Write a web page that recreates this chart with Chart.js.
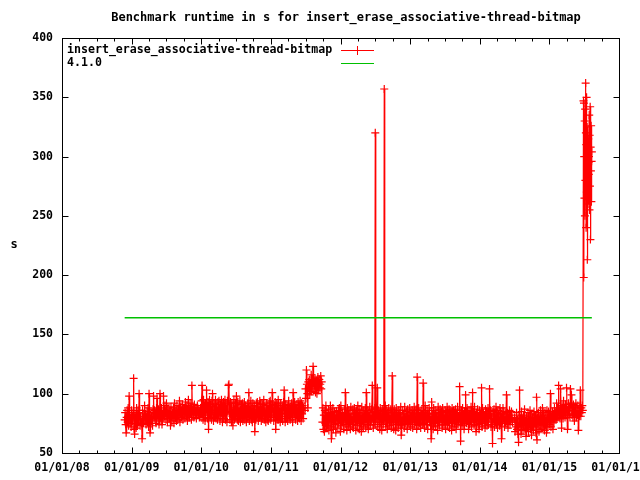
<!DOCTYPE html>
<html>
<head>
<meta charset="utf-8">
<script src="https://cdn.jsdelivr.net/npm/chart.js@4.4.1/dist/chart.umd.min.js"></script>
<style>
  html, body { margin: 0; padding: 0; background: #fff; }
  #chart { display: block; }
</style>
</head>
<body>
<canvas id="chart" width="640" height="480"></canvas>
<script>
const TITLE = "Benchmark runtime in s for insert_erase_associative-thread-bitmap";
const Y_TITLE = "s";
const SERIES_NAME = "insert_erase_associative-thread-bitmap";
const REF_NAME = "4.1.0";
const REF_VALUE = 164;

// runs are about daily, each block is spread evenly between its first and last date (decimal years)
const blockStart = [2008.90, 2009.99, 2011.49, 2011.74, 2014.50, 2015.09, 2015.49];
const blockEnd   = [2009.98, 2011.47, 2011.73, 2014.47, 2015.08, 2015.48, 2015.61];

const runsLate2008 = [
  78, 84, 74, 67, 80, 86, 76, 88, 73, 98, 82, 75,
  80, 72, 86, 79, 77, 84, 113, 70, 66, 83, 78, 71,
  88, 80, 74, 86, 76, 100, 84, 73, 81, 78, 75, 62,
  86, 79, 75, 83, 90, 77, 82, 74, 80, 85, 76, 88,
  72, 100, 81, 67, 79, 84, 77, 81, 73, 87, 98, 80,
  86, 78, 83, 75, 88, 96, 82, 79, 87, 74, 84, 100,
  80, 77, 88, 74, 83, 79, 98, 85, 81, 90, 84, 78,
  92, 86, 76, 84, 82, 88, 79, 85, 73, 89, 81, 77,
  84, 80, 88, 75, 92, 82, 79, 86, 77, 90, 83, 78,
  87, 81, 94, 76, 85, 89, 80, 84, 91, 78, 86, 82,
  88, 79, 93, 84, 81, 90, 77, 86, 95, 83, 80, 89,
  84, 92, 78, 107, 86, 82, 88, 80, 91, 85, 83, 88,
  79, 86, 90, 84, 82, 87, 80, 85
];
const runs2010 = [
  88, 80, 94, 107, 84, 78, 95, 82, 90, 77, 92, 85,
  103, 86, 79, 93, 70, 84, 95, 80, 91, 86, 78, 94,
  100, 83, 77, 92, 86, 80, 95, 79, 89, 84, 78, 93,
  82, 94, 86, 77, 91, 81, 95, 84, 76, 90, 93, 79,
  86, 95, 78, 92, 83, 76, 94, 85, 107, 108, 84, 78,
  93, 85, 76, 92, 81, 73, 88, 95, 78, 84, 92, 79,
  98, 84, 78, 93, 77, 88, 81, 94, 76, 85, 91, 79,
  92, 77, 86, 80, 93, 78, 90, 83, 76, 89, 80, 92,
  81, 101, 77, 89, 83, 94, 78, 88, 76, 92, 82, 79,
  90, 68, 84, 78, 92, 80, 93, 83, 77, 89, 80, 94,
  81, 92, 77, 86, 91, 79, 85, 95, 78, 88, 82, 76,
  92, 83, 78, 90, 77, 86, 93, 80, 94, 78, 88, 80,
  101, 91, 82, 77, 90, 80, 93, 70, 84, 92, 78, 86,
  95, 78, 88, 81, 76, 92, 83, 79, 90, 77, 86, 93,
  103, 81, 76, 91, 83, 79, 90, 77, 86, 94, 80, 88,
  78, 89, 80, 92, 83, 76, 101, 90, 81, 93, 84, 78,
  91, 82, 88, 77, 93, 80, 90, 79, 94, 84, 77, 92,
  83, 90, 79, 88
];
const runsMid2011 = [
  86, 104, 96, 120, 108, 100, 88, 110, 105, 112, 99, 103,
  109, 116, 102, 106, 112, 123, 110, 104, 107, 113, 101, 108,
  111, 100, 106, 114, 103, 109, 112, 105, 108, 115, 104, 110
];
const runs2012 = [
  76, 88, 70, 82, 68, 86, 75, 90, 71, 84, 73, 80,
  87, 69, 81, 76, 90, 72, 62, 84, 78, 88, 70, 80,
  85, 74, 79, 67, 85, 77, 82, 71, 86, 75, 88, 80,
  68, 90, 78, 73, 84, 76, 81, 70, 87, 77, 101, 74,
  82, 69, 88, 79, 72, 86, 76, 83, 70, 89, 77, 81,
  74, 87, 71, 80, 88, 76, 83, 69, 86, 78, 73, 90,
  79, 84, 70, 87, 75, 82, 68, 89, 77, 83, 72, 86,
  76, 81, 88, 71, 101, 79, 74, 86, 70, 84, 78, 89,
  73, 82, 77, 87, 107, 80, 71, 85, 76, 88, 320, 74,
  84, 79, 105, 72, 86, 78, 83, 70, 88, 76, 82, 69,
  87, 80, 74, 85, 357, 77, 90, 72, 81, 86, 70, 84,
  78, 88, 73, 82, 76, 87, 71, 84, 115, 76, 84, 70,
  87, 78, 82, 69, 88, 74, 83, 80, 71, 86, 77, 84,
  73, 89, 65, 80, 74, 86, 77, 83, 71, 89, 75, 81,
  78, 85, 70, 87, 76, 82, 74, 88, 79, 72, 84, 77,
  86, 71, 83, 78, 89, 74, 81, 76, 87, 70, 114, 79,
  73, 88, 80, 75, 84, 71, 86, 78, 82, 74, 109, 75,
  84, 71, 90, 78, 82, 74, 86, 70, 83, 79, 88, 76,
  81, 73, 62, 93, 77, 83, 70, 88, 79, 75, 86, 72,
  84, 78, 81, 69, 89, 76, 83, 73, 87, 80, 77, 85,
  71, 88, 76, 82, 74, 79, 86, 70, 84, 77, 89, 73,
  82, 76, 87, 71, 85, 78, 83, 69, 88, 75, 80, 86,
  72, 84, 78, 87, 70, 83, 76, 89, 74, 81, 77, 106,
  84, 60, 79, 86, 73, 88, 77, 82, 70, 85, 76, 99,
  80, 75, 88, 78, 83, 70, 86, 74, 81, 77, 89, 72,
  84, 101, 76, 85, 73, 89, 79, 82, 68, 84, 77, 87,
  74, 81, 70, 86, 78, 83, 75, 105, 72, 88, 79, 84,
  76, 82, 71, 87, 77, 85, 73, 80, 88, 74, 83, 104,
  79, 86, 72, 81, 76, 58, 85, 78, 87, 72, 82, 76,
  89, 74, 84, 71, 86, 77, 80, 73, 88, 75, 83, 62,
  83, 77, 88, 79, 85, 72, 81, 76, 84, 99, 75, 84,
  71, 80, 78, 86, 74, 82, 77, 85, 79, 76
];
const runsLate2014 = [
  80, 68, 76, 72, 84, 70, 78, 66, 59, 82, 103, 72,
  79, 66, 85, 74, 78, 69, 82, 73, 87, 70, 77, 64,
  81, 76, 71, 84, 68, 79, 74, 86, 70, 78, 65, 83,
  73, 80, 69, 85, 76, 72, 82, 67, 97, 61, 80, 74,
  84, 68, 78, 73, 86, 70, 79, 75, 88, 71, 82, 76,
  69, 84, 74, 80, 67, 86, 77, 72, 85, 79, 74, 81,
  100, 72, 81, 77, 85, 70, 83, 76, 88, 78
];
const runs2015 = [
  84, 78, 92, 80, 88, 82, 107, 80, 86, 79, 104, 88,
  71, 90, 85, 79, 94, 82, 88, 80, 91, 84, 105, 86,
  70, 86, 92, 82, 89, 80, 104, 88, 99, 82, 88, 80,
  91, 83, 77, 89, 84, 92, 80, 86, 82, 90, 69, 86,
  81, 88, 103, 81, 88, 84, 90, 86
];
const runsJump2015 = [
  347, 198, 345, 300, 265, 330, 250, 340, 280, 362, 320, 240,
  310, 350, 270, 325, 213, 290, 305, 260, 315, 295, 285, 300,
  335, 255, 318, 275, 342, 230, 308, 288, 326, 262, 296, 304
];

const yearTicks = [2008, 2009, 2010, 2011, 2012, 2013, 2014, 2015, 2016];
const yearLabels = ["01/01/08", "01/01/09", "01/01/10", "01/01/11", "01/01/12", "01/01/13", "01/01/14", "01/01/15", "01/01/16"];
const yTicks = [50, 100, 150, 200, 250, 300, 350, 400];

const blocks = [runsLate2008, runs2010, runsMid2011, runs2012, runsLate2014, runs2015, runsJump2015];
const seriesPoints = [];
blocks.forEach((vals, b) => {
  const t0 = blockStart[b], t1 = blockEnd[b];
  vals.forEach((v, i) => {
    seriesPoints.push({ x: t0 + (t1 - t0) * i / (vals.length - 1), y: v });
  });
});
const refPoints = [
  { x: blockStart[0], y: REF_VALUE },
  { x: blockEnd[blockEnd.length - 1], y: REF_VALUE },
];

const FONT_FAMILY = "'DejaVu Sans Mono', 'Liberation Mono', monospace";
const tickFont = { family: FONT_FAMILY, size: 11.5, weight: "bold" };
const RED = "#ff0000";
const GREEN = "#00c000";

// gnuplot look: framed box, inward ticks on all four sides, key inside top-left
const gnuplotFrame = {
  id: "gnuplotFrame",
  afterDatasetsDraw(chart) {
    const { ctx, chartArea: a, scales: { x, y } } = chart;
    const L = Math.round(a.left) + 0.5, R = Math.round(a.right) + 0.5;
    const T = Math.round(a.top) + 0.5, B = Math.round(a.bottom) + 0.5;
    ctx.save();
    ctx.strokeStyle = "#000";
    ctx.lineWidth = 1;
    ctx.beginPath();
    const seg = (x1, y1, x2, y2) => { ctx.moveTo(x1, y1); ctx.lineTo(x2, y2); };
    yearTicks.forEach((v, i) => {
      const px = Math.round(x.getPixelForValue(v)) + 0.5;
      seg(px, B, px, B - 6);
      seg(px, T, px, T + 6);
      if (i < yearTicks.length - 1) {
        for (let q = 1; q < 4; q++) {
          const mx = Math.round(x.getPixelForValue(v + q / 4)) + 0.5;
          seg(mx, B, mx, B - 3);
          seg(mx, T, mx, T + 3);
        }
      }
    });
    yTicks.forEach(v => {
      const py = Math.round(y.getPixelForValue(v)) + 0.5;
      seg(L, py, L + 6, py);
      seg(R, py, R - 6, py);
    });
    ctx.stroke();
    ctx.strokeRect(L, T, R - L, B - T);

    // key
    ctx.font = "bold 11.6px " + FONT_FAMILY;
    ctx.fillStyle = "#000";
    ctx.textAlign = "left";
    ctx.textBaseline = "middle";
    chart.data.datasets.forEach((d, i) => {
      const cy = 50 + i * 12.5;
      const ly = Math.round(cy) + 0.5;
      ctx.fillText(d.label, 67, cy);
      ctx.strokeStyle = d.borderColor;
      ctx.beginPath();
      seg(341, ly, 374, ly);
      if (d.pointRadius > 0) seg(357.5, ly - 4.5, 357.5, ly + 4.5);
      ctx.stroke();
    });
    ctx.restore();
  },
  afterDraw(chart) {
    const { ctx } = chart;
    ctx.save();
    ctx.font = "bold 12px " + FONT_FAMILY;
    ctx.fillStyle = "#000";
    ctx.textAlign = "center";
    ctx.textBaseline = "middle";
    ctx.fillText(TITLE, 346, 18);
    ctx.fillText(Y_TITLE, 14, 245);
    ctx.restore();
  }
};

new Chart(document.getElementById("chart"), {
  type: "line",
  data: {
    datasets: [
      {
        label: SERIES_NAME,
        data: seriesPoints,
        borderColor: RED,
        backgroundColor: RED,
        borderWidth: 1.2,
        pointStyle: "cross",
        pointRadius: 4,
        pointBorderWidth: 1.2,
        pointBorderColor: RED,
        fill: false,
        tension: 0,
        order: 2,
      },
      {
        label: REF_NAME,
        data: refPoints,
        borderColor: GREEN,
        backgroundColor: GREEN,
        borderWidth: 1.5,
        pointRadius: 0,
        fill: false,
        order: 1,
      },
    ],
  },
  options: {
    responsive: false,
    animation: false,
    devicePixelRatio: 1,
    events: [],
    layout: { padding: { top: 38, right: 21, left: 0, bottom: 0 } },
    plugins: {
      legend: { display: false },
      title: { display: false },
      tooltip: { enabled: false },
    },
    scales: {
      x: {
        type: "linear",
        min: 2008,
        max: 2016,
        afterBuildTicks: (s) => { s.ticks = yearTicks.map(v => ({ value: v })); },
        afterFit: (s) => { s.height = 27; s.paddingLeft = 0; s.paddingRight = 0; },
        grid: { display: false, drawTicks: false },
        border: { display: false },
        ticks: {
          callback: (v, i) => yearLabels[i],
          font: tickFont,
          color: "#000",
          padding: 8,
          maxRotation: 0,
          autoSkip: false,
        },
      },
      y: {
        type: "linear",
        min: 50,
        max: 400,
        afterBuildTicks: (s) => { s.ticks = yTicks.map(v => ({ value: v })); },
        afterFit: (s) => { s.width = 62; s.paddingTop = 0; s.paddingBottom = 0; },
        grid: { display: false, drawTicks: false },
        border: { display: false },
        ticks: {
          font: tickFont,
          color: "#000",
          padding: 9,
        },
      },
    },
  },
  plugins: [gnuplotFrame],
});
</script>
</body>
</html>
